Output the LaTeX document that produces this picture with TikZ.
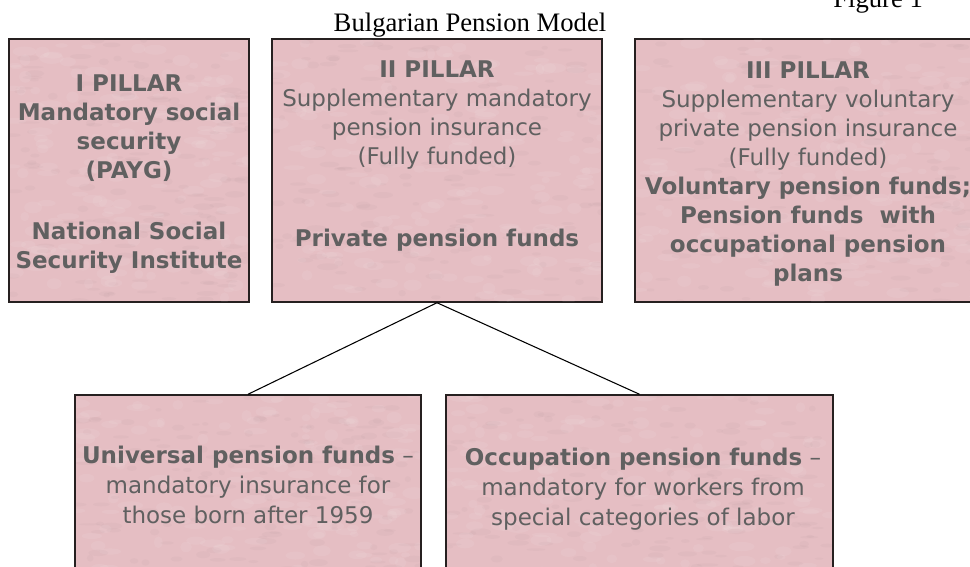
\documentclass[tikz,border=0pt]{standalone}
\usepackage{fontspec}
\setmainfont{DejaVu Sans}
\newfontfamily\titlefont{Liberation Serif}
\definecolor{boxpink}{RGB}{229,190,195}
\definecolor{boxedge}{RGB}{38,32,32}
\definecolor{inktext}{RGB}{96,96,96}

% mottled paper look inside a box given by its pixel extents
\newcommand\mottle[4]{%
  \begin{scope}
    \clip (#1+1,#2+1) rectangle (#3-1,#4-1);
    \foreach \k in {1,...,160}{%
      \fill[white, opacity=0.07]
        ({#1+rnd*(#3-#1)},{#2+rnd*(#4-#2)}) ellipse [x radius={4+rnd*9}, y radius={2+rnd*4}];
      \fill[boxedge!45!boxpink, opacity=0.05]
        ({#1+rnd*(#3-#1)},{#2+rnd*(#4-#2)}) ellipse [x radius={3+rnd*8}, y radius={1+rnd*2.5}];
    }
  \end{scope}}

\begin{document}
\begin{tikzpicture}[x=0.75pt,y=-0.75pt,
  pillar/.style={rectangle, draw=boxedge, line width=1.1pt, fill=boxpink,
    inner sep=0pt, minimum height=197.25pt},
  branch/.style={rectangle, draw=boxedge, line width=1.1pt, fill=boxpink,
    inner sep=0pt, minimum height=153.75pt},
  txt/.style={inner sep=0pt, anchor=base, align=center, text=inktext,
    font=\fontsize{17.25pt}{21.75pt}\selectfont},
  btxt/.style={txt, font=\fontsize{17.25pt}{22.5pt}\selectfont},
  link/.style={draw=black, line width=0.8pt},
  heading/.style={inner sep=0pt, text=black, font=\titlefont\fontsize{20pt}{24pt}\selectfont}]
\useasboundingbox (0,0) rectangle (970,567);
\clip (0,0) rectangle (970,567);
\pgfmathsetseed{4711}

% headings
\node[heading, anchor=base] (title) at (470,32) {Bulgarian Pension Model};
\node[heading, anchor=base west] (fig) at (833,8) {Figure 1};

% the three pillars
\node[pillar, minimum width=180pt]    (p1) at (129,170.5) {};
\node[pillar, minimum width=247.5pt]  (p2) at (437,170.5) {};
\node[pillar, minimum width=266.25pt] (p3) at (812.5,170.5) {};
\mottle{9}{39}{249}{302}
\mottle{272}{39}{602}{302}
\mottle{635}{39}{990}{302}

% second-pillar branches
\node[branch, minimum width=259.5pt]  (u) at (248,497.5) {};
\node[branch, minimum width=290.25pt] (o) at (639.5,497.5) {};
\mottle{75}{395}{421}{600}
\mottle{446}{395}{833}{600}

\draw[link] (p2.south) -- (u.north);
\draw[link] (p2.south) -- (o.north);

% pillar texts (each node sits on the baseline of its last line)
\node[txt] (p1a) at (129,178) {\textbf{I PILLAR}\\\textbf{Mandatory social}\\\textbf{security}\\\textbf{(PAYG)}};
\node[txt] (p1b) at (129,268) {\textbf{National Social}\\\textbf{Security Institute}};

\node[txt] (p2a) at (437,164) {\textbf{II PILLAR}\\Supplementary mandatory\\pension insurance\\(Fully funded)};
\node[txt] (p2b) at (437,246) {\textbf{Private pension funds}};

\node[txt] (p3a) at (808,281) {\textbf{III PILLAR}\\Supplementary voluntary\\private pension insurance\\(Fully funded)\\\textbf{Voluntary pension funds;}\\\textbf{Pension funds\ \ with}\\\textbf{occupational pension}\\\textbf{plans}};

% branch texts
\node[btxt] (ua) at (248,523) {\textbf{Universal pension funds} --\\mandatory insurance for\\those born after 1959};
\node[btxt] (oa) at (643,525) {\textbf{Occupation pension funds} --\\mandatory for workers from\\special categories of labor};
\end{tikzpicture}
\end{document}
